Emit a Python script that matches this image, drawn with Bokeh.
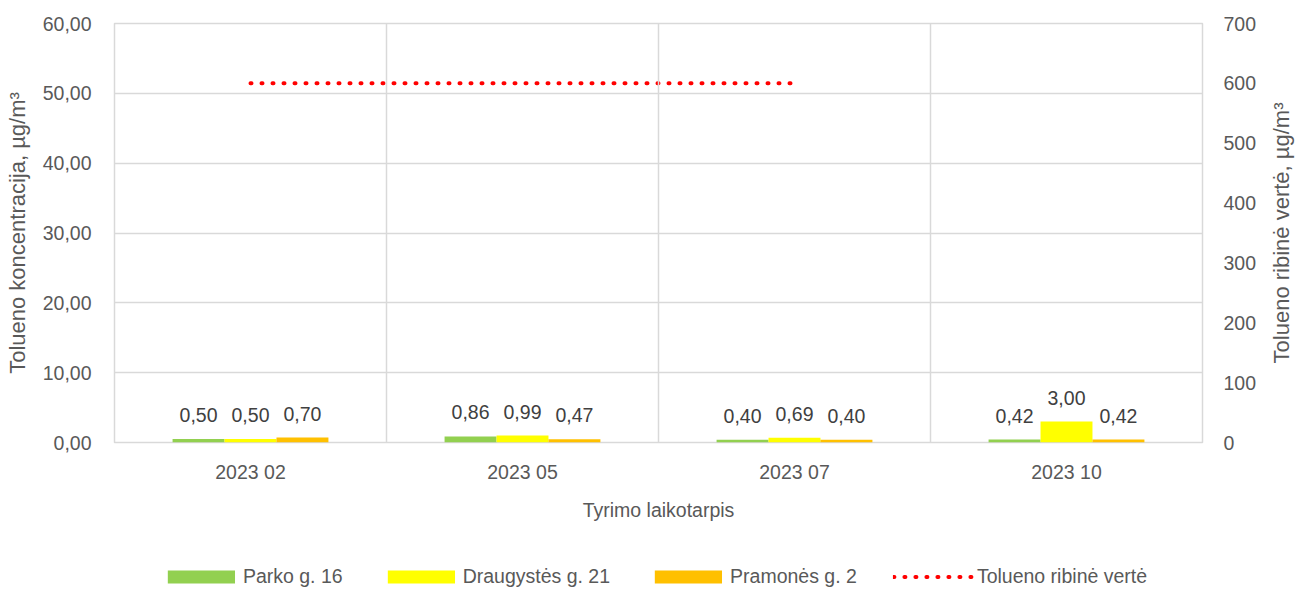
from bokeh.plotting import figure
from bokeh.layouts import row, column
from bokeh.models import (FactorRange, Range1d, LinearAxis, ColumnDataSource, Span,
                          Legend, LegendItem, CustomJSTickFormatter, FixedTicker)
from bokeh.transform import dodge
from bokeh.core.properties import value
from bokeh.embed import file_html
from bokeh.resources import INLINE

# ---- data ----
periods = ["2023 02", "2023 05", "2023 07", "2023 10"]
parko = [0.50, 0.86, 0.40, 0.42]
draugystes = [0.50, 0.99, 0.69, 3.00]
pramones = [0.70, 0.47, 0.40, 0.42]
limit_periods = ["2023 02", "2023 05", "2023 07"]
limit_values = [600, 600, 600]
series_names = ["Parko g. 16", "Draugystės g. 21", "Pramonės g. 2"]
limit_name = "Tolueno ribinė vertė"
left_ticks = [0, 10, 20, 30, 40, 50, 60]
right_ticks = [0, 100, 200, 300, 400, 500, 600, 700]
left_title = "Tolueno koncentracija, µg/m³"
right_title = "Tolueno ribinė vertė, µg/m³"
x_title = "Tyrimo laikotarpis"

FONT = "Liberation Sans"
FS = "19.5px"
TXT = "#595959"
GRID = "#D9D9D9"
colors = ["#92D050", "#FFFF00", "#FFC000"]
RED = "#FF0000"


def fmt(v):
    return f"{v:.2f}".replace(".", ",")


src = ColumnDataSource(dict(
    x=periods,
    parko=parko, draugystes=draugystes, pramones=pramones,
    l_parko=[fmt(v) for v in parko],
    l_draug=[fmt(v) for v in draugystes],
    l_pram=[fmt(v) for v in pramones],
))
cols = ["parko", "draugystes", "pramones"]
labs = ["l_parko", "l_draug", "l_pram"]

W_MAIN = 1262
H_MAIN = 562
p = figure(x_range=FactorRange(*periods), y_range=Range1d(0, 60),
           width=W_MAIN, height=H_MAIN, output_backend="svg", toolbar_location=None,
           min_border_left=114, min_border_right=W_MAIN - 1202, min_border_top=23,
           min_border_bottom=H_MAIN - 442)
p.extra_y_ranges = {"right": Range1d(0, 700)}

p.outline_line_color = GRID
p.outline_line_width = 1.5
p.xgrid.visible = False
p.ygrid.grid_line_color = GRID
p.ygrid.grid_line_width = 1.5
p.ygrid.ticker = FixedTicker(ticks=left_ticks)

for i in range(1, len(periods)):
    p.add_layout(Span(location=i, dimension="height", line_color=GRID, line_width=1.5))

bw = 0.191
offs = [-bw, 0, bw]
for c, l, o, col in zip(cols, labs, offs, colors):
    p.vbar(x=dodge("x", o, range=p.x_range), top=c, width=bw, source=src,
           fill_color=col, line_color=None)
    p.text(x=dodge("x", o, range=p.x_range), y=c, text=l, source=src,
           text_align="center", text_baseline="alphabetic", y_offset=-24,
           text_font=value(FONT), text_font_size=FS, text_color="#404040")

p.line(x=limit_periods, y=limit_values, y_range_name="right",
       line_color=RED, line_width=4, line_dash="1 10", line_cap="round")

# axes
yl = p.yaxis[0]
yl.ticker = FixedTicker(ticks=left_ticks)
yl.formatter = CustomJSTickFormatter(code="return tick.toFixed(2).replace('.', ',');")
yl.axis_label = left_title

yr = LinearAxis(y_range_name="right", ticker=FixedTicker(ticks=right_ticks))
p.add_layout(yr, "right")

p.xaxis.axis_label = x_title

for ax in [p.xaxis[0], yl, yr]:
    ax.axis_line_color = None
    ax.major_tick_line_color = None
    ax.minor_tick_line_color = None
    ax.major_label_text_font = FONT
    ax.major_label_text_font_size = FS
    ax.major_label_text_color = TXT
    ax.axis_label_text_font = FONT
    ax.axis_label_text_font_size = "22px"
    ax.axis_label_text_font_style = "normal"
    ax.axis_label_text_color = TXT

p.xaxis[0].axis_label_text_font_size = "19.5px"
yl.major_label_standoff = 17
yl.axis_label_standoff = 10
yr.major_label_standoff = 15
p.xaxis[0].major_label_standoff = 12
p.xaxis[0].axis_label_standoff = 13

# narrow companion figure that carries the right-hand axis title (reads bottom-to-top)
p2 = figure(width=1306 - W_MAIN, height=H_MAIN, output_backend="svg", toolbar_location=None,
            y_range=Range1d(0, 700), x_range=Range1d(0, 1), x_axis_location=None,
            min_border_left=37, min_border_right=0,
            min_border_top=23, min_border_bottom=H_MAIN - 442)
p2.outline_line_color = None
p2.xgrid.visible = False
p2.ygrid.visible = False
ya2 = p2.yaxis[0]
ya2.ticker = FixedTicker(ticks=right_ticks)
ya2.formatter = CustomJSTickFormatter(code="return '';")
ya2.axis_line_color = None
ya2.major_tick_line_color = None
ya2.minor_tick_line_color = None
ya2.major_label_standoff = 0
ya2.axis_label = right_title
ya2.axis_label_standoff = 0
ya2.axis_label_text_font = FONT
ya2.axis_label_text_font_size = "22px"
ya2.axis_label_text_font_style = "normal"
ya2.axis_label_text_color = TXT

# legend strip (proxy renderers use the same data but sit outside this strip's range)
p3 = figure(width=1306, height=590 - H_MAIN, output_backend="svg", toolbar_location=None,
            x_axis_location=None, y_axis_location=None,
            x_range=FactorRange(*periods), y_range=Range1d(5000, 6000),
            min_border_left=0, min_border_right=0, min_border_top=0, min_border_bottom=0)
p3.outline_line_color = None
p3.xgrid.visible = False
p3.ygrid.visible = False
leg_r = [p3.vbar(x="x", top=c, width=bw, source=src, fill_color=col, line_color=None)
         for c, col in zip(cols, colors)]
leg_r.append(p3.line(x=limit_periods, y=limit_values, line_color=RED, line_width=4,
                     line_dash="1 10", line_cap="round"))
items = [LegendItem(label=n, renderers=[r])
         for n, r in zip(series_names + [limit_name], leg_r)]
legend = Legend(items=items, orientation="horizontal", location="center",
                background_fill_alpha=0, border_line_color=None, padding=0, margin=0,
                glyph_width=84, glyph_height=16, label_standoff=0, spacing=36,
                label_text_font=FONT, label_text_font_size=FS, label_text_color=TXT,
                label_height=20)
p3.add_layout(legend)

layout = column(row(p, p2, spacing=0), p3, spacing=0)
open("out.html", "w").write(file_html(layout, INLINE))
